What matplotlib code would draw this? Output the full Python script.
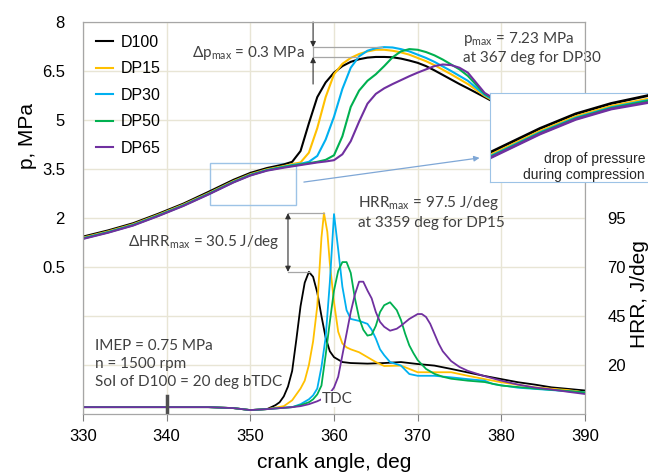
import matplotlib
matplotlib.use('Agg')
import matplotlib.pyplot as plt
from matplotlib.patches import Rectangle

plt.rcParams['font.family'] = ['Liberation Sans', 'DejaVu Sans']
plt.rcParams['mathtext.fontset'] = 'custom'
plt.rcParams['mathtext.rm'] = 'Lato'

fuels = ['D100', 'DP15', 'DP30', 'DP50', 'DP65']
colors = ['#000000', '#ffc000', '#00b0f0', '#00b050', '#7030a0']

# in-cylinder pressure, MPa
p_deg = [330, 333, 336, 339, 342, 345, 348, 350, 352, 354, 355, 356, 357, 358, 359, 360,
         361, 362, 363, 364, 365, 366, 367, 368, 369, 370, 371, 372, 373, 374, 375, 376,
         378, 380, 383, 386, 390]
p_d100 = [1.43, 1.62, 1.84, 2.13, 2.44, 2.80, 3.17, 3.38, 3.53, 3.64, 3.72, 4.05, 4.9, 5.7,
          6.15, 6.45, 6.65, 6.78, 6.86, 6.91, 6.93, 6.93, 6.92, 6.88, 6.82, 6.75, 6.65, 6.52,
          6.38, 6.24, 6.1, 5.97, 5.7, 5.42, 5.0, 4.6, 4.1]
p_dp15 = [1.40, 1.59, 1.81, 2.10, 2.41, 2.76, 3.13, 3.34, 3.49, 3.59, 3.65, 3.70, 4.0, 4.75,
          5.7, 6.4, 6.72, 6.9, 7.02, 7.1, 7.15, 7.15, 7.12, 7.07, 7.0, 6.9, 6.8, 6.68,
          6.54, 6.4, 6.25, 6.1, 5.74, 5.45, 5.01, 4.6, 4.1]
p_dp30 = [1.38, 1.57, 1.79, 2.08, 2.39, 2.74, 3.11, 3.32, 3.47, 3.57, 3.62, 3.66, 3.72, 3.9,
          4.4, 5.1, 5.95, 6.6, 6.95, 7.12, 7.2, 7.23, 7.22, 7.17, 7.1, 7.0, 6.9, 6.78,
          6.64, 6.5, 6.35, 6.2, 5.77, 5.47, 5.02, 4.6, 4.1]
p_dp50 = [1.37, 1.56, 1.78, 2.07, 2.38, 2.73, 3.10, 3.31, 3.46, 3.56, 3.60, 3.64, 3.68, 3.72,
          3.78, 3.92, 4.5, 5.4, 5.9, 6.2, 6.4, 6.65, 6.92, 7.1, 7.17, 7.15, 7.08, 6.98,
          6.85, 6.7, 6.55, 6.35, 5.8, 5.5, 5.05, 4.62, 4.1]
p_dp65 = [1.36, 1.55, 1.77, 2.06, 2.37, 2.72, 3.09, 3.30, 3.45, 3.54, 3.58, 3.62, 3.66, 3.70,
          3.73, 3.77, 3.95, 4.35, 4.95, 5.5, 5.8, 5.97, 6.1, 6.22, 6.34, 6.45, 6.55, 6.65,
          6.7, 6.68, 6.6, 6.45, 5.83, 5.52, 5.06, 4.62, 4.1]

# heat release rate, J/deg
h_d100_deg = [330, 340, 345, 348, 350, 352, 353, 353.5, 354, 354.5, 355, 355.5, 356, 356.5,
              357, 357.5, 358, 358.5, 359, 359.5, 360, 361, 362, 364, 366, 368, 370, 372,
              374, 376, 378, 380, 382, 384, 386, 388, 390]
h_d100 = [-1.5, -1.5, -1.5, -2, -3, -2.5, -0.5, 1, 4, 9, 17, 33, 50, 62, 67.5, 65, 57, 45,
          34, 27, 24, 21.5, 21, 20.7, 21, 21.5, 20.5, 19.7, 18, 16.2, 14.4, 12.8, 11.2, 10,
          8.6, 7.8, 7]
h_dp15_deg = [330, 340, 345, 348, 350, 352, 354, 355, 356, 356.5, 357, 357.5, 358, 358.5,
              358.8, 359.2, 359.5, 360, 360.5, 361, 361.5, 362, 363, 364, 365, 366, 368, 370,
              372, 374, 376, 378, 380, 384, 388, 390]
h_dp15 = [-1.5, -1.5, -1.5, -2, -3, -2.5, -1, 2, 8, 12, 20, 32, 50, 85, 97.5, 88, 72, 52, 37,
          31, 29, 28, 26.5, 24, 21.5, 19.5, 19.7, 16.3, 16.3, 16.3, 14.5, 12.8, 11.2, 8.6,
          7.2, 6]
h_dp30_deg = [330, 340, 345, 348, 350, 352, 355, 356, 357, 357.5, 358, 358.5, 359, 359.5,
              360, 360.5, 361, 361.5, 362, 363, 364, 364.5, 365, 365.5, 366, 366.7, 368, 369,
              370, 372, 374, 376, 378, 379, 382, 386, 390]
h_dp30 = [-1.5, -1.5, -1.5, -2, -3, -2.5, -1.5, 0, 2.5, 4.5, 8, 19, 34, 62, 97, 79, 60, 48,
          43.5, 42.5, 41, 38, 33.5, 28, 25, 21.5, 19.7, 15.4, 14.5, 14.5, 13.7, 12.8, 12,
          10.3, 8.4, 7.2, 6]
h_dp50_deg = [330, 340, 345, 348, 350, 352, 355, 356, 357, 357.5, 358, 358.5, 359, 359.5,
              360, 360.5, 361, 361.5, 362, 362.5, 363, 363.5, 364, 364.5, 365, 365.5, 366,
              366.7, 367.5, 368, 368.5, 369, 369.5, 370, 371, 372, 373, 374, 376, 378, 380,
              384, 388, 390]
h_dp50 = [-1.5, -1.5, -1.5, -2, -3, -2.5, -1.5, -0.5, 1, 2.5, 5, 9.5, 25, 42, 58, 68, 72.5,
          72.5, 67, 54, 44, 38, 35, 35.5, 40, 47, 50.5, 52, 48, 43, 36, 30, 26, 22.5, 18,
          15.5, 14, 13, 12, 11.3, 9.5, 8, 6.7, 6]
h_dp65_deg = [330, 340, 345, 348, 350, 352, 355, 356, 357, 358, 359, 359.5, 360, 360.5, 361,
              361.5, 362, 362.5, 363, 363.5, 364, 364.5, 365, 365.5, 366, 366.7, 367.5, 368,
              369, 370, 370.5, 371, 371.5, 372, 372.5, 373, 374, 375, 376, 378, 380, 382,
              384, 386, 388, 390]
h_dp65 = [-1.5, -1.5, -1.5, -2, -3, -2.5, -1.5, -1, 0, 1.5, 3.5, 5.5, 8.5, 14, 25, 36, 47,
          56, 62.5, 62.5, 58, 54, 47, 42, 39.5, 37.5, 38.5, 40, 43.5, 46, 46, 44.5, 41, 36,
          31, 27, 22, 19, 17, 14.3, 12, 10, 8.5, 7.5, 6.3, 5.2]

p_series = [p_d100, p_dp15, p_dp30, p_dp50, p_dp65]
h_series = [(h_d100_deg, h_d100), (h_dp15_deg, h_dp15), (h_dp30_deg, h_dp30),
            (h_dp50_deg, h_dp50), (h_dp65_deg, h_dp65)]

x_ticks = [330, 340, 350, 360, 370, 380, 390]
p_ticks = [-2.5, -1, 0.5, 2, 3.5, 5, 6.5, 8]
p_tick_labels = ['', '', '0.5', '2', '3.5', '5', '6.5', '8']
hrr_ticks = [20, 45, 70, 95]

note_color = '#404040'
note_font = ['Lato', 'DejaVu Sans']
note_size = 11
box_color = '#9dc3e6'

fig = plt.figure(figsize=(6.48, 4.74), dpi=100)
ax = fig.add_axes([83 / 648, 60 / 474, 502 / 648, 392 / 474])
ax2 = ax.twinx()

for name, col, p in zip(fuels, colors, p_series):
    ax.plot(p_deg, p, color=col, lw=1.5, label=name)
for col, (d, h) in zip(colors, h_series):
    ax2.plot(d, h, color=col, lw=1.3)

ax.set_xlim(330, 390)
ax.set_ylim(-4, 8)
ax2.set_ylim(-5, 195)
ax.set_xticks(x_ticks)
ax.set_yticks(p_ticks)
ax.set_yticklabels(p_tick_labels)
ax2.set_yticks(hrr_ticks)
ax.grid(True, color='#e8e5d5', lw=1)
ax.set_axisbelow(True)

for a in (ax, ax2):
    for s in a.spines.values():
        s.set_color('#a6a6a6')
ax.spines['left'].set_color('#808080')
ax.spines['bottom'].set_color('#808080')
ax.tick_params(axis='x', length=5, color='#808080', labelsize=12, pad=6)
ax.tick_params(axis='y', length=0, labelsize=12, pad=13)
ax2.tick_params(axis='y', length=0, labelsize=12, pad=16)

ax.set_xlabel('crank angle, deg', fontsize=15, labelpad=6)
ax.set_ylabel('p, MPa', fontsize=15)
ax.yaxis.set_label_coords(-0.092, 0.71)
ax2.set_ylabel('HRR, J/deg', fontsize=15)
ax2.yaxis.set_label_coords(1.089, 0.305)

ax.legend(loc='upper left', bbox_to_anchor=(0.0, 1.0), frameon=False, fontsize=11.5,
          handlelength=1.1, handletextpad=0.45, labelspacing=0.72, borderaxespad=0.4)

# delta p_max bracket
p_hi = max(p_dp30)
p_lo = max(p_d100)
arr = dict(arrowstyle='-|>', color='#303030', lw=0.8, mutation_scale=8, shrinkA=0, shrinkB=0)
ax.annotate('', xy=(357.5, p_hi), xytext=(357.5, 8.0), arrowprops=arr, annotation_clip=False)
ax.annotate('', xy=(357.5, p_lo), xytext=(357.5, 6.1), arrowprops=arr)
ax.plot([357.5, 365.7], [p_hi, p_hi], color='#a6a6a6', lw=0.9)
ax.plot([357.5, 362.9], [p_lo, p_lo], color='#a6a6a6', lw=0.9)
ax.plot([357.5, 357.5], [p_lo, p_hi], color='#a6a6a6', lw=0.9)
ax.text(356.5, 7.06, '\u0394p$_{\\mathrm{max}}$ = 0.3 MPa', ha='right', va='center',
        fontsize=note_size, color=note_color, family=note_font)
ax.text(375.4, 7.23, 'p$_{\\mathrm{max}}$ = 7.23 MPa\nat 367 deg for DP30', ha='left',
        va='center', fontsize=note_size, color=note_color, family=note_font, linespacing=1.3)

# delta HRR_max bracket
h_hi = max(h_dp15)
h_lo = max(h_d100)
ax2.annotate('', xy=(354.5, h_hi), xytext=(354.5, h_lo),
             arrowprops=dict(arrowstyle='<|-|>', color='#303030', lw=0.8, mutation_scale=8,
                             shrinkA=0, shrinkB=0))
ax2.plot([354.5, 358.8], [h_hi, h_hi], color='#a6a6a6', lw=0.9)
ax2.plot([354.5, 357.1], [h_lo, h_lo], color='#a6a6a6', lw=0.9)
ax2.text(353.5, 82.8, '\u0394HRR$_{\\mathrm{max}}$ = 30.5 J/deg', ha='right', va='center',
         fontsize=note_size, color=note_color, family=note_font)
ax.text(362.9, 2.18, 'HRR$_{\\mathrm{max}}$ = 97.5 J/deg\nat 3359 deg for DP15', ha='left',
        va='center', fontsize=note_size, color=note_color, family=note_font, linespacing=1.3)

ax2.text(331.4, 20.5, 'IMEP = 0.75 MPa\nn = 1500 rpm\nSoI of D100 = 20 deg bTDC',
         ha='left', va='center', fontsize=note_size, color=note_color, family=note_font,
         linespacing=1.4)
ax2.plot([340, 340], [-5, 4], color='#505050', lw=2.5)
ax2.text(358.55, 2.6, 'TDC', ha='left', va='center', fontsize=note_size, color=note_color,
         family=note_font, bbox=dict(fc='white', ec='none', pad=0.6))

# zoom of the compression stroke
ax.add_patch(Rectangle((345.2, 2.40), 10.2, 1.28, fill=False, ec=box_color, lw=1))
ax.annotate('', xy=(377.4, 3.84), xytext=(356.4, 3.1),
            arrowprops=dict(arrowstyle='-|>', color='#7fa7d6', lw=0.9, mutation_scale=8,
                            shrinkA=0, shrinkB=0))

axins = fig.add_axes([490 / 648, 1 - 182 / 474, 182 / 648, 89 / 474], zorder=5)
for col, p in zip(colors, p_series):
    axins.plot(p_deg, p, color=col, lw=2)
axins.set_xlim(345.2, 355.4)
axins.set_ylim(2.40, 3.68)
axins.set_xticks([])
axins.set_yticks([])
for s in axins.spines.values():
    s.set_color(box_color)
axins.text(0.852, 0.17, 'drop of pressure\nduring compression', transform=axins.transAxes,
           ha='right', va='center', fontsize=10, color='#262626', linespacing=1.15)

fig.savefig('out.png', dpi=100)
